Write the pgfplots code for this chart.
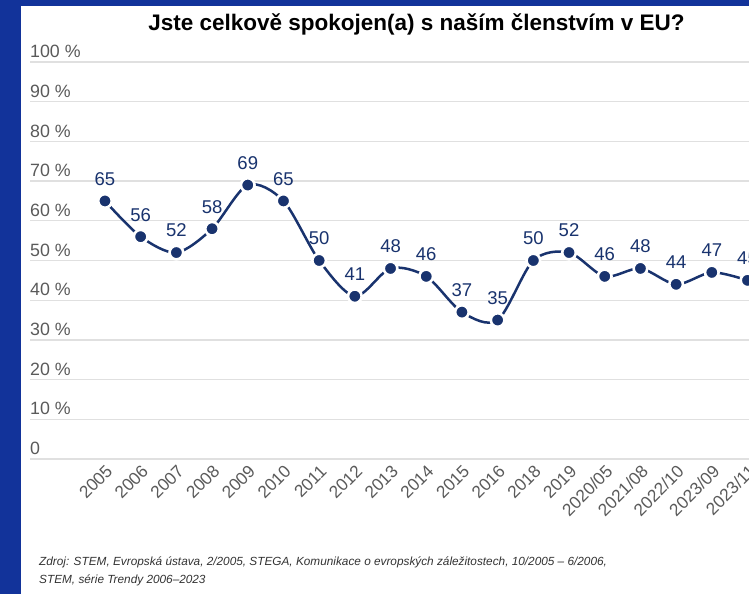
\documentclass[border=0pt]{standalone}
\usepackage{pgfplots}
\pgfplotsset{compat=1.18}
\usepackage{fontspec}
\setmainfont{Liberation Sans}
\definecolor{bord}{HTML}{12339A}
\definecolor{navy}{HTML}{19336E}
\definecolor{ticktext}{HTML}{5A5A5A}
\definecolor{gridc}{HTML}{E0E0E0}
\begin{document}
\begin{tikzpicture}
\useasboundingbox (0pt,0pt) rectangle (749pt,594pt);
\clip (0pt,0pt) rectangle (749pt,594pt);
\fill[bord] (0pt,0pt) rectangle (749pt,594pt);
\fill[white] (21pt,0pt) rectangle (760pt,588pt);
\begin{axis}[
  at={(30pt,135pt)}, anchor=south west,
  scale only axis, width=730pt, height=397pt,
  xmin=-2.1, xmax=18.35, ymin=0, ymax=100,
  clip=false,
  axis line style={draw=none},
  major tick length=0pt,
  ytick={0,10,...,100},
  yticklabels={0,10 \%,20 \%,30 \%,40 \%,50 \%,60 \%,70 \%,80 \%,90 \%,100 \%},
  ymajorgrids,
  grid style={gridc, line width=1.3pt},
  yticklabel style={anchor=south west, inner sep=0pt, yshift=4pt, font=\fontsize{17.8}{17.8}\selectfont, text=ticktext},
  xtick={0,...,18},
  xticklabels={2005,2006,2007,2008,2009,2010,2011,2012,2013,2014,2015,2016,2018,2019,2020/05,2021/08,2022/10,2023/09,2023/11},
  xticklabel style={rotate=45, anchor=north east, font=\fontsize{17.3}{17.3}\selectfont, text=ticktext},
  /pgf/number format/assume math mode=true,
]
\addplot[navy, line width=2.5pt, smooth,
  mark=*, mark size=6.8pt, mark options={fill=navy, draw=white, line width=2.6pt},
  nodes near coords,
  nodes near coords style={anchor=center, yshift=22pt, font=\fontsize{18.5}{18.5}\selectfont, text=navy}]
coordinates {(0,65)(1,56)(2,52)(3,58)(4,69)(5,65)(6,50)(7,41)(8,48)(9,46)(10,37)(11,35)(12,50)(13,52)(14,46)(15,48)(16,44)(17,47)(18,45)};
\end{axis}
\node[font=\bfseries\fontsize{22.5}{22.5}\selectfont] at (416.5pt,570pt) {Jste celkově spokojen(a) s naším členstvím v EU?};
\node[anchor=west, inner sep=0pt, font=\itshape\fontsize{11.8}{11.8}\selectfont, text=black!80] at (39pt,32pt) {Zdroj: STEM, Evropská ústava, 2/2005, STEGA, Komunikace o evropských záležitostech, 10/2005 -- 6/2006,};
\node[anchor=west, inner sep=0pt, font=\itshape\fontsize{11.8}{11.8}\selectfont, text=black!80] at (39pt,14pt) {STEM, série Trendy 2006--2023};
\end{tikzpicture}
\end{document}
